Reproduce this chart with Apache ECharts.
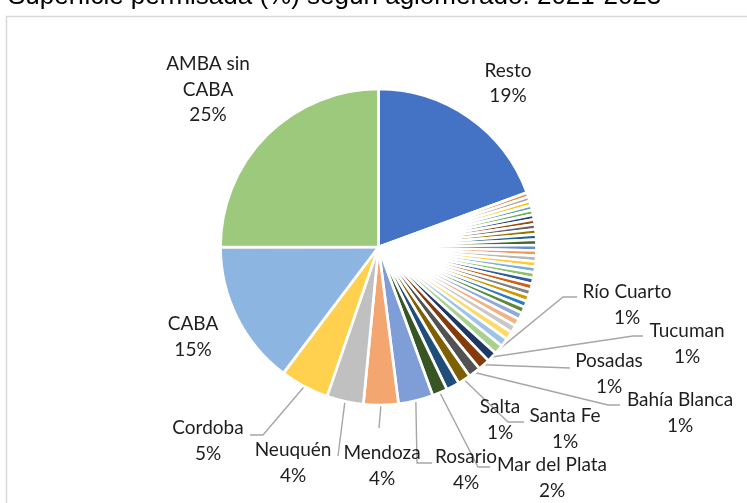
<!DOCTYPE html>
<html>
<head>
<meta charset="utf-8">
<script src="https://cdn.jsdelivr.net/npm/echarts@6/dist/echarts.min.js"></script>
<style>html,body{margin:0;padding:0;background:#fff;overflow:hidden}#c{width:747px;height:503px}</style>
</head>
<body>
<div id="c"></div>
<script>
// ---- data ----
const titleText = 'Superficie permisada (%) según aglomerado. 2021-2023';
const smallNames = [];
for (let i = 1; i <= 28; i++) smallNames.push('Otro ' + i);
const categories = ['Resto'].concat(smallNames, [
  'Río Cuarto', 'Tucuman', 'Posadas', 'Bahía Blanca', 'Santa Fe', 'Salta',
  'Mar del Plata', 'Rosario', 'Mendoza', 'Neuquén', 'Cordoba', 'CABA', 'AMBA sin CABA'
]);
const restoValue = [19.4];
const smallValues = [
  0.44, 0.45, 0.46, 0.47, 0.48, 0.49, 0.50, 0.51, 0.52, 0.53, 0.54,
  0.55, 0.55, 0.56, 0.56, 0.57, 0.58, 0.59, 0.60, 0.61, 0.62, 0.63, 0.65,
  0.70, 0.74, 0.78, 0.82, 0.86
];
const mainValues = [0.95, 1.05, 1.2, 1.25, 1.3, 1.35, 1.55, 3.55, 3.55, 3.75, 5.0, 14.7, 25.0];
const values = restoValue.concat(smallValues, mainValues);
const labeled = ['Resto', 'Río Cuarto', 'Tucuman', 'Posadas', 'Bahía Blanca', 'Santa Fe', 'Salta',
  'Mar del Plata', 'Rosario', 'Mendoza', 'Neuquén', 'Cordoba', 'CABA', 'AMBA sin CABA'];

// ---- styles ----
const palette = [
  '#4472C4', '#ED7D31', '#A5A5A5', '#FFC000', '#5B9BD5', '#70AD47',
  '#264478', '#9E480E', '#636363', '#997300', '#255E91', '#43682B',
  '#698ED0', '#F1975A', '#B7B7B7', '#FFCD33', '#7CAFDD', '#8CC168',
  '#335AA1', '#D26012', '#848484', '#CC9A00', '#327DC2', '#5A8A39',
  '#8FAADC', '#F4B183', '#C9C9C9', '#FFD966', '#9DC3E6', '#A9D18E',
  '#203864', '#843C0C', '#525252', '#7F6000', '#1F4E79', '#375623',
  '#7F9ED8', '#F3A66F', '#C0C0C0', '#FFD14F', '#8DB5E2', '#9DC97C'
];
const labelPos = {
  'Resto': {x: 508, y: 83.5},
  'AMBA sin CABA': {x: 208, y: 89.5},
  'CABA': {x: 193, y: 337},
  'Cordoba': {x: 208, y: 441, line: [[263, 435], [250, 435]]},
  'Neuquén': {x: 293, y: 463, line: [[338, 456]]},
  'Mendoza': {x: 382, y: 466, line: [[379, 428]]},
  'Rosario': {x: 466, y: 470, line: [[417, 463], [432, 463]]},
  'Mar del Plata': {x: 552, y: 478, line: [[478, 467], [490, 467]]},
  'Salta': {x: 500, y: 420},
  'Santa Fe': {x: 565, y: 429, line: [[508, 422], [524, 422]]},
  'Bahía Blanca': {x: 680, y: 413, line: [[608, 405], [620, 405]]},
  'Posadas': {x: 609, y: 374, line: [[570, 368]]},
  'Tucuman': {x: 687, y: 344, line: [[633, 336], [643, 336]]},
  'Río Cuarto': {x: 627, y: 305, line: [[563, 297], [577, 297]]}
};

const chart = echarts.init(document.getElementById('c'), null, {renderer: 'canvas'});
const data = categories.map(function (name, i) {
  const show = labeled.indexOf(name) >= 0;
  const pos = labelPos[name];
  return {
    name: name,
    value: values[i],
    itemStyle: {color: palette[i]},
    label: {show: show},
    labelLine: {show: !!(pos && pos.line)}
  };
});

chart.setOption({
  animation: false,
  graphic: [
    {type: 'rect', shape: {x: 6.5, y: 16.5, width: 760, height: 520}, style: {fill: 'none', stroke: '#d9d9d9', lineWidth: 1.5}, silent: true},
    {type: 'text', x: 8, y: -16, style: {text: titleText, font: '26px "Liberation Sans", Arial, sans-serif', fill: '#000', textVerticalAlign: 'top', verticalAlign: 'top'}, silent: true}
  ],
  series: [{
    type: 'pie',
    center: [378.5, 247],
    radius: 158,
    startAngle: 90,
    clockwise: true,
    avoidLabelOverlap: false,
    itemStyle: {borderColor: '#fff', borderWidth: 2.7},
    label: {
      position: 'outside',
      fontFamily: 'Lato',
      fontSize: 19,
      lineHeight: 25.5,
      color: '#1e1e1e',
      align: 'center',
      formatter: function (p) {
        const nm = p.name === 'AMBA sin CABA' ? 'AMBA sin\nCABA' : p.name;
        return nm + '\n' + Math.round(p.percent) + '%';
      }
    },
    labelLine: {lineStyle: {color: '#a6a6a6', width: 1.4}, length: 10, length2: 10},
    labelLayout: function (p) {
      const name = categories[p.dataIndex];
      const pos = labelPos[name];
      if (!pos) return {};
      const res = {x: pos.x, y: pos.y, align: 'center', verticalAlign: 'middle'};
      if (pos.line && p.labelLinePoints) {
        res.labelLinePoints = [p.labelLinePoints[0]].concat(pos.line);
      }
      return res;
    },
    emphasis: {disabled: true},
    data: data
  }]
});
</script>
</body>
</html>
